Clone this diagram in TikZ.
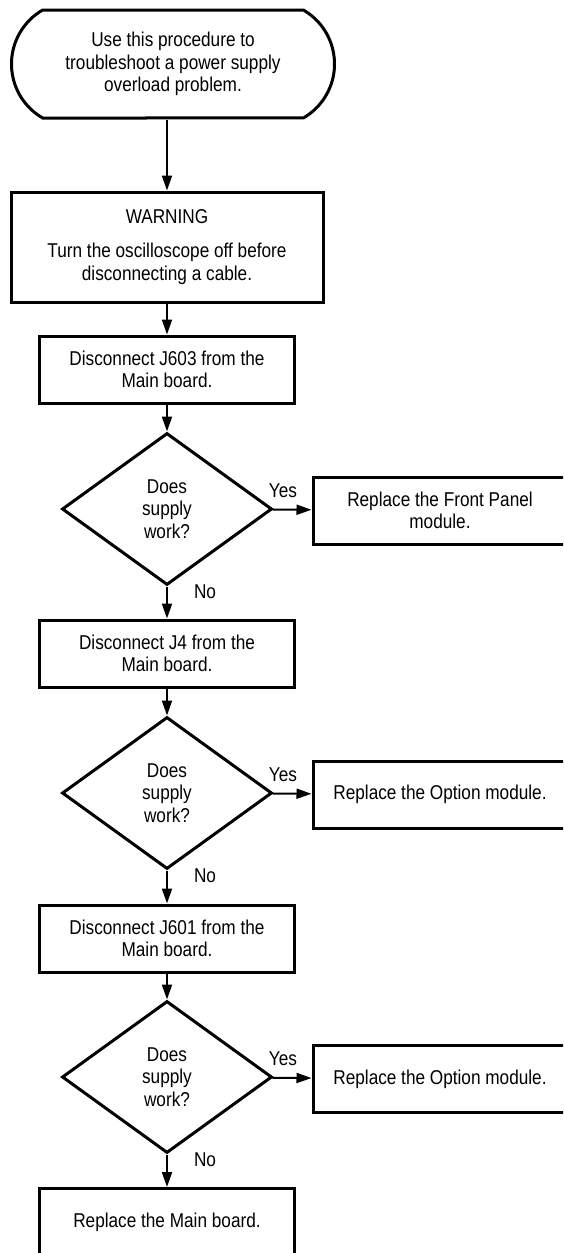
\documentclass[tikz,border=0pt]{standalone}
\usepackage{fontspec}
\setmainfont{Liberation Sans}[FakeStretch=0.86]
\usetikzlibrary{shapes.geometric,shapes.misc,arrows.meta}

\begin{document}
\begin{tikzpicture}[x=1pt, y=-1pt,
    txt/.style={font=\fontsize{20}{22.5}\selectfont, align=center},
    stepbox/.style={txt, draw, line width=3pt, rectangle, inner sep=0pt,
        minimum width=255pt, minimum height=67pt},
    askbox/.style={txt, draw, line width=3pt, diamond, inner sep=0pt,
        minimum width=210pt, minimum height=152pt},
    flow/.style={line width=2pt, -{Triangle[length=15pt,width=10pt]}}]
    % Page frame, the right and bottom boxes run off it
    \useasboundingbox (0,0) rectangle (563,1253);
    \clip (0,0) rectangle (563,1253);

    % Start terminal
    \node[txt, draw, line width=3pt, rounded rectangle,
        rounded rectangle arc length=120, inner sep=0pt,
        minimum width=323pt, minimum height=108pt] (start) at (173,64)
        {Use this procedure to\\troubleshoot a power supply\\overload problem.};

    % Warning box
    \node[stepbox, minimum width=312pt, minimum height=110pt] (warn) at (167,247)
        {WARNING\\[12pt]Turn the oscilloscope off before\\disconnecting a cable.};

    % Steps down the left column
    \node[stepbox] (jsix) at (167,369.5) {Disconnect J603 from the\\Main board.};
    \node[askbox] (askone) at (167,509) {Does\\supply\\work?};
    \node[stepbox] (jfour) at (167,653.5) {Disconnect J4 from the\\Main board.};
    \node[askbox] (asktwo) at (167,793) {Does\\supply\\work?};
    \node[stepbox] (jsixone) at (167,938.5) {Disconnect J601 from the\\Main board.};
    \node[askbox] (askthree) at (167,1077) {Does\\supply\\work?};
    \node[stepbox] (mainb) at (167,1222) {Replace the Main board.};

    % Replacement boxes on the right
    \node[stepbox, minimum width=254pt] (frontp) at (440,510.5)
        {Replace the Front Panel\\module.};
    \node[stepbox, minimum width=254pt] (optone) at (440,794.5)
        {Replace the Option module.};
    \node[stepbox, minimum width=254pt] (opttwo) at (440,1079)
        {Replace the Option module.};

    % Yes / No labels
    \node[txt] (yesone) at (283,491) {Yes};
    \node[txt] (noone) at (205,592) {No};
    \node[txt] (yestwo) at (283,775) {Yes};
    \node[txt] (notwo) at (205,876) {No};
    \node[txt] (yesthree) at (283,1059) {Yes};
    \node[txt] (nothree) at (205,1160) {No};

    % Connectors
    \draw[flow] (start.south -| warn.north) -- (warn);
    \draw[flow] (warn) -- (jsix);
    \draw[flow] (jsix) -- (askone);
    \draw[flow] (askone) -- (jfour);
    \draw[flow] (askone) -- (frontp);
    \draw[flow] (jfour) -- (asktwo);
    \draw[flow] (asktwo) -- (jsixone);
    \draw[flow] (asktwo) -- (optone);
    \draw[flow] (jsixone) -- (askthree);
    \draw[flow] (askthree) -- (mainb);
    \draw[flow] (askthree) -- (opttwo);
\end{tikzpicture}
\end{document}
